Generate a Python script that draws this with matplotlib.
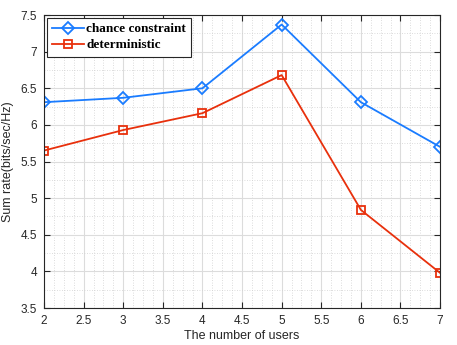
import matplotlib
matplotlib.use("Agg")
import matplotlib.pyplot as plt
from matplotlib.ticker import MultipleLocator, FuncFormatter

users = [2, 3, 4, 5, 6, 7]
chance_constraint = [6.31, 6.37, 6.50, 7.37, 6.31, 5.70]
deterministic = [5.65, 5.93, 6.16, 6.68, 4.84, 3.98]

plt.rcParams['font.family'] = ['Liberation Sans', 'DejaVu Sans']

fig = plt.figure(figsize=(4.57, 3.45), dpi=100)
ax = fig.add_axes([0.0963, 0.107, 0.8667, 0.8495])

ax.plot(users, chance_constraint, color='#1a7cff', lw=1.3, marker='D', ms=6.5,
        mfc='none', mew=1.3, label='chance constraint')
ax.plot(users, deterministic, color='#e8300c', lw=1.3, marker='s', ms=6,
        mfc='none', mew=1.3, label='deterministic')

ax.set_xlim(2, 7)
ax.set_ylim(3.5, 7.5)
ax.xaxis.set_major_locator(MultipleLocator(0.5))
ax.yaxis.set_major_locator(MultipleLocator(0.5))
ax.xaxis.set_minor_locator(MultipleLocator(0.125))
ax.yaxis.set_minor_locator(MultipleLocator(0.25))
ax.xaxis.set_major_formatter(FuncFormatter(lambda v, p: f"{v:g}"))
ax.yaxis.set_major_formatter(FuncFormatter(lambda v, p: f"{v:g}"))

ax.grid(True, which='major', color='#dcdcdc', lw=0.8)
ax.grid(True, which='minor', color='#d0d0d0', lw=0.6, ls=(0, (1, 2)))
ax.set_axisbelow(True)

ax.tick_params(which='major', direction='in', length=4, width=0.8, top=True, right=True,
               labelsize=8.5, colors='#262626', pad=5)
ax.tick_params(which='minor', length=0, top=True, right=True)
for s in ax.spines.values():
    s.set_color('#262626')
    s.set_linewidth(0.8)

ax.set_xlabel('The number of users', fontsize=9, color='#262626', labelpad=2)
ax.set_ylabel('Sum rate(bits/sec/Hz)', fontsize=9, color='#262626', labelpad=5)

leg = ax.legend(loc='upper left', prop={'family': 'Liberation Serif', 'weight': 'bold', 'size': 9.5},
                fancybox=False, edgecolor='#262626', framealpha=1, borderaxespad=0.2,
                handlelength=2.4, handletextpad=0.2, borderpad=0.4, labelspacing=0.3)
leg.get_frame().set_linewidth(0.8)

fig.savefig('out.png', dpi=100)
